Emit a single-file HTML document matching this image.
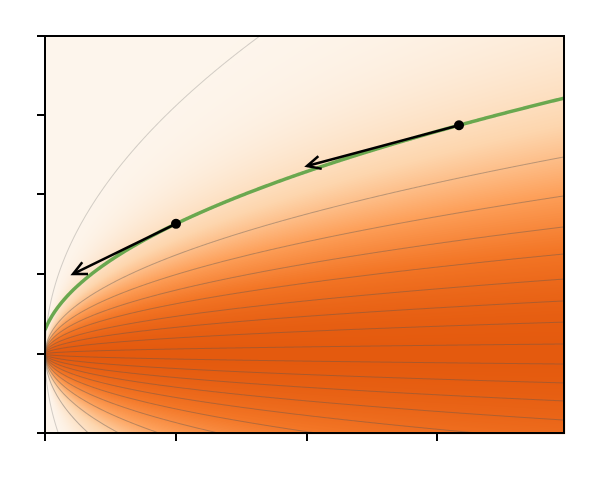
<!DOCTYPE html>
<html><head><meta charset="utf-8"><style>
html,body{margin:0;padding:0;background:#fff;overflow:hidden;width:600px;height:480px}
#wrap{position:relative;width:600px;height:480px;overflow:hidden}
canvas,svg{position:absolute;left:0;top:0;display:block}
</style></head><body>
<div id="wrap">
<canvas id="cv" width="600" height="480"></canvas>
<svg id="sv" width="600" height="480"></svg>
</div>
<script>
// data
const contourLevels = [21.7, 8.65, 6.94, 5.58, 4.39, 3.29, 2.33, 1.40, 0.44, -0.44, -1.27, -2.06, -2.90, -3.8, -4.8, -6.0, -7.4, -9.2, -12, -21.7];
const greenOffset = [576];
const greenSlope = [125];
const pointT = [131, 414];
const arrowEndT = [28, 262];
const arrowEndV = [80, 188];
const xTicks = [0, 131, 262, 392];
const yTicks = [-79, 0, 80, 160, 239, 318];
const densitySigma = [6.5];

const X0=45, X1=564, Y0=354, YT=36, YB=433;
const sx = t => X0 + t;
const sy = v => Y0 - v;
const greenV = t => Math.sqrt(greenOffset[0] + greenSlope[0]*t);

const cv=document.getElementById('cv'), ctx=cv.getContext('2d');
const img=ctx.createImageData(600,480);
const stops=[[0,[253,245,236]],[0.3,[253,214,174]],[0.55,[253,160,90]],[0.78,[243,118,38]],[1,[228,90,14]]];
function col(f){for(let i=1;i<stops.length;i++){if(f<=stops[i][0]){const a=stops[i-1],b=stops[i],u=(f-a[0])/(b[0]-a[0]);return a[1].map((c,k)=>c+(b[1][k]-c)*u);}}return stops[stops.length-1][1];}
for(let py=YT;py<=YB;py++)for(let px=X0;px<=X1;px++){
 const t=Math.max(px-X0,0.3), v=Y0-py, c=v/Math.sqrt(t);
 const f=Math.exp(-c*c/(2*densitySigma[0]*densitySigma[0]));
 const cc=col(f), i=(py*600+px)*4;
 img.data[i]=cc[0];img.data[i+1]=cc[1];img.data[i+2]=cc[2];img.data[i+3]=255;}
ctx.putImageData(img,0,0);

const NS='http://www.w3.org/2000/svg', sv=document.getElementById('sv');
function mk(tag,attrs,parent){const e=document.createElementNS(NS,tag);for(const k in attrs)e.setAttribute(k,attrs[k]);(parent||sv).appendChild(e);return e;}
const defs=mk('defs',{});
const cp=mk('clipPath',{id:'clip'},defs);mk('rect',{x:X0,y:YT,width:X1-X0,height:YB-YT},cp);
const g=mk('g',{'clip-path':'url(#clip)'});

contourLevels.forEach((c,i)=>{
 let d='';for(let t=0;t<=519;t+=1){d+=(t?'L':'M')+sx(t)+','+sy(c*Math.sqrt(t)).toFixed(2);}
 const p=mk('path',{d:d,fill:'none',stroke:'#555',
  'stroke-opacity':Math.abs(c)>15?0.25:0.4,'stroke-width':1},g);
 
 
});
let gd='';for(let t=0;t<=519;t+=1){gd+=(t?'L':'M')+sx(t)+','+sy(greenV(t)).toFixed(2);}
const gp=mk('path',{d:gd,fill:'none',stroke:'#6aa84f',
 'stroke-width':3.5},g);



pointT.forEach((t,i)=>{
 const x1=sx(t),y1=sy(greenV(t)),x2=sx(arrowEndT[i]),y2=sy(arrowEndV[i]);
 const ln=mk('line',{x1:x1,y1:y1,x2:x2,y2:y2,stroke:'#000','stroke-width':2.5});
 
 
 const a=Math.atan2(y1-y2,x1-x2),L=15,w=0.45;
 const hd=mk('path',{d:`M${x2+L*Math.cos(a+w)},${y2+L*Math.sin(a+w)}L${x2},${y2}L${x2+L*Math.cos(a-w)},${y2+L*Math.sin(a-w)}`,fill:'none',stroke:'#000','stroke-width':2.5});
 
 
 const pt=mk('circle',{cx:x1,cy:y1,r:5,fill:'#000'});
 
 
});

const fr=mk('rect',{x:X0,y:YT,width:X1-X0,height:YB-YT,fill:'none',stroke:'#000','stroke-width':2});


xTicks.forEach(t=>{const e=mk('line',{x1:sx(t),x2:sx(t),y1:YB,y2:YB+8,stroke:'#000','stroke-width':2});
 
 });
yTicks.forEach(v=>{const e=mk('line',{x1:X0-8,x2:X0,y1:sy(v),y2:sy(v),stroke:'#000','stroke-width':2});
 
 });
</script>
</body></html>
